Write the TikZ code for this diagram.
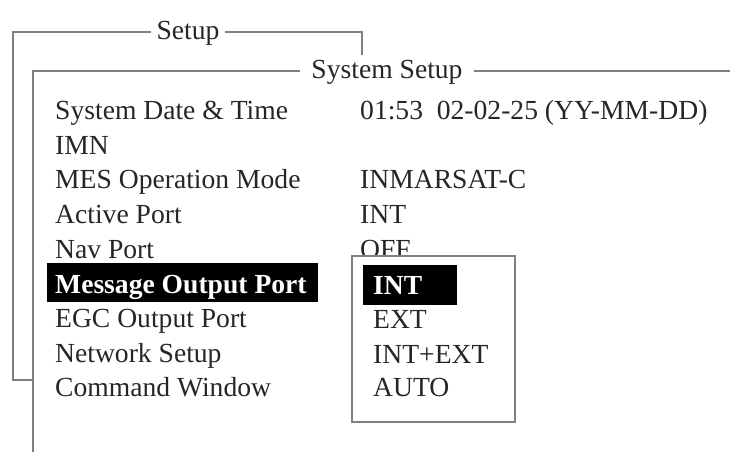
\documentclass[tikz,border=0pt]{standalone}
\usepackage{fontspec}
\setmainfont{Liberation Serif}
\tikzset{
  frame/.style={draw=black!50,line width=1.6pt},
  item/.style={anchor=base west,inner sep=0pt,text=black!85},
  choice/.style={item,text=white,font=\fontsize{27.6}{30}\selectfont\bfseries},
  title/.style={anchor=base,inner ysep=0pt,text=black!85}
}
\begin{document}
\begin{tikzpicture}[x=1pt,y=-1pt,font=\fontsize{27.6}{30}\selectfont]
\useasboundingbox (0,0) rectangle (730,452);
% frame titles
\node[title,inner xsep=5pt] (setup) at (188,40) {Setup};
\node[title,inner xsep=11pt] (syssetup) at (387,78) {System Setup};
\coordinate (otop) at (13,32);
\coordinate (itop) at (33,71);
\draw[frame] (33,380) -| (otop) -- (otop -| setup.west);
\draw[frame] (otop -| setup.east) -| (362,55);
\draw[frame] (33,452) -- (itop) -- (itop -| syssetup.west);
\draw[frame] (itop -| syssetup.east) -- (730,71);
% menu items
\node[item] (date) at (55,119) {System Date \& Time};
\node[item] (imn) at (55,154) {IMN};
\node[item] (mes) at (55,188) {MES Operation Mode};
\node[item] (active) at (55,223) {Active Port};
\node[item] (nav) at (55,258) {Nav Port};
\fill[black] (47,263) rectangle (318,302);
\node[choice] (msgout) at (55,293) {Message Output Port};
\node[item] (egc) at (55,327) {EGC Output Port};
\node[item] (network) at (55,362) {Network Setup};
\node[item] (command) at (55,396) {Command Window};
% values
\node[item] (dateval) at (360,119) {01:53\ \ 02-02-25 (YY-MM-DD)};
\node[item] (mesval) at (360,188) {INMARSAT-C};
\node[item] (activeval) at (360,223) {INT};
\node[item] (navval) at (360,258) {OFF};
% pop-up list
\filldraw[frame,fill=white] (352,256) rectangle (515,422);
\fill[black] (363,265) rectangle (457,305);
\node[choice] (optint) at (373,294) {INT};
\node[item] (optext) at (373,328) {EXT};
\node[item] (optboth) at (373,363) {INT+EXT};
\node[item] (optauto) at (373,396) {AUTO};
\end{tikzpicture}
\end{document}
